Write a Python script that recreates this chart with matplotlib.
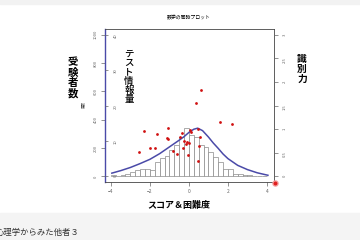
import numpy as np
import matplotlib.pyplot as plt

plt.rcParams['font.family'] = ['Noto Sans CJK JP', 'DejaVu Sans']

# histogram of examinee scores (bins of 0.25 from -4 to 4)
binLeft = np.arange(-4, 4, 0.25)
counts = [7, 5, 12, 20, 30, 42, 55, 55, 45, 100, 130, 145, 185, 220, 275, 340,
          290, 275, 220, 205, 170, 135, 100, 55, 50, 20, 13, 8, 6, 3, 4, 2]

# test information curve
theta = [-3.95, -3.5, -3, -2.5, -2, -1.5, -1, -0.5, -0.25, 0, 0.25, 0.45, 0.7,
         1, 1.25, 1.5, 1.75, 2, 2.5, 3, 3.5, 4.05]
info = [0.9, 1.6, 2.5, 3.6, 4.8, 6.4, 8.3, 10.2, 11.2, 12.4, 13.3, 13.6, 12.9,
        11.1, 9.4, 7.9, 6.3, 5.0, 3.1, 1.9, 1.0, 0.3]

# items: difficulty vs discrimination
difficulty = [-2.56, -2.32, -2.0, -1.76, -1.66, -1.14, -1.09, -1.06, -0.80, -0.62,
              -0.46, -0.34, -0.32, -0.24, -0.15, -0.09, -0.03, 0.0, 0.05, 0.09,
              0.36, 0.45, 0.48, 0.53, 0.56, 0.63, 1.59, 2.19]
discrim = [0.52, 0.96, 0.60, 0.60, 0.89, 0.82, 1.03, 0.80, 0.53, 0.47,
           0.84, 0.92, 0.59, 0.74, 0.68, 0.73, 0.45, 0.70, 0.99, 0.94,
           1.55, 1.00, 0.33, 0.64, 0.84, 1.82, 1.15, 1.10]
outlier = (4.41, -0.15)

countTicks = [0, 200, 400, 600, 800, 1000]
infoTicks = [0, 10, 20, 30, 40]
discTicks = [0, 0.5, 1, 1.5, 2, 2.5, 3]
xTicks = [-4, -2, 0, 2, 4]

axisGray = '#666666'
curveBlue = '#4a4aa8'

fig = plt.figure(figsize=(3.6, 2.4), dpi=100)
fig.patch.set_facecolor('white')
# page bands of the screenshot
fig.patches.append(plt.Rectangle((0, 0), 1, 27 / 240, transform=fig.transFigure,
                                 color='#f4f4f4', zorder=0))
fig.patches.append(plt.Rectangle((0, 236 / 240), 1, 4 / 240, transform=fig.transFigure,
                                 color='#f2f2f2', zorder=0))

ax = fig.add_axes([105 / 360, 58 / 240, 169 / 360, 153 / 240])
ax.bar(binLeft, counts, width=0.25, align='edge', facecolor='white',
       edgecolor='#8a8a8a', linewidth=0.5)
ax.set_xlim(-4.3, 4.36)
ax.set_ylim(-40, 1040)
ax.set_xticks(xTicks)
ax.set_yticks(countTicks)
ax.tick_params(axis='both', colors=axisGray, length=3, width=0.5, labelsize=3)
ax.tick_params(axis='y', pad=2, labelrotation=90)
ax.tick_params(axis='x', pad=2, labelsize=3.5)
for lab in ax.get_yticklabels():
    lab.set_va('center')
for s in ax.spines.values():
    s.set_linewidth(0.6)
    s.set_color('#444444')
ax.spines['left'].set_color(curveBlue)
ax.spines['left'].set_linewidth(1.0)

# information axis (inside, left)
ax2 = ax.twinx()
ax2.plot(theta, info, color=curveBlue, linewidth=1.1)
ax2.set_ylim(-1.6, 41.6)
ax2.yaxis.set_ticks_position('left')
ax2.set_yticks(infoTicks)
ax2.tick_params(axis='y', direction='in', length=2, width=0.5, colors=axisGray,
                labelleft=True, labelright=False, labelsize=3, pad=-9,
                labelrotation=90)
for s in ax2.spines.values():
    s.set_visible(False)

# discrimination axis (right)
ax3 = ax.twinx()
ax3.scatter(difficulty, discrim, s=4, color='#d01010', zorder=3, linewidths=0)
ax3.scatter([outlier[0]], [outlier[1]], s=22, color='#f4a0a0', zorder=3,
            linewidths=0, clip_on=False)
ax3.scatter([outlier[0]], [outlier[1]], s=8, color='#e02020', zorder=4,
            linewidths=0, clip_on=False)
ax3.set_ylim(-0.12, 3.12)
ax3.set_yticks(discTicks)
ax3.set_yticklabels(['0', '0.5', '1', '1.5', '2', '2.5', '3'])
ax3.tick_params(axis='y', length=3, width=0.5, colors=axisGray, labelsize=3,
                pad=3, labelrotation=90)
for s in ax3.spines.values():
    s.set_visible(False)

fig.text(189 / 360, 1 - 18 / 240, '数学の同時プロット', fontsize=3.5,
         ha='center', va='center')
fig.text(73 / 360, 1 - 78 / 240, '\n'.join('受験者数'), fontsize=7.5,
         fontweight='bold', ha='center', va='center', linespacing=1.05)
fig.text(83 / 360, 1 - 105 / 240, '度数', fontsize=2.5, rotation=90,
         ha='center', va='center', color='#444444')
fig.text(129 / 360, 1 - 77 / 240, '\n'.join('テスト情報量'), fontsize=6.8,
         ha='center', va='center', linespacing=1.0, fontweight='medium')
fig.text(302 / 360, 1 - 69 / 240, '\n'.join('識別力'), fontsize=7,
         fontweight='bold', ha='center', va='center', linespacing=1.0)
fig.text(179 / 360, 1 - 205 / 240, 'スコア＆困難度', fontsize=6.5,
         fontweight='bold', ha='center', va='center')
fig.text(-4 / 360, 1 - 232 / 240, '心理学からみた他者３', fontsize=6,
         ha='left', va='center', color='#333333')

fig.savefig('out.png', dpi=100)
